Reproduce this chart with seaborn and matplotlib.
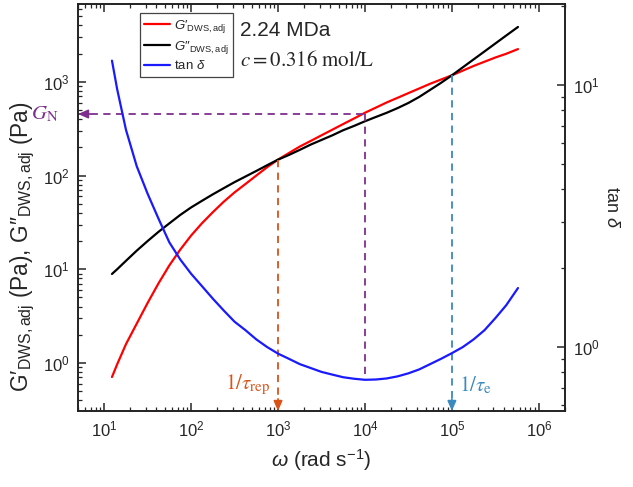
import numpy as np
import pandas as pd
import seaborn as sns
import matplotlib.pyplot as plt

# frequency grid (rad/s) and moduli
omega = [12.3, 14.1, 17.8, 23.7, 31.6, 42.2, 56.2, 75.0, 100, 133, 178, 237, 316, 422,
         562, 750, 1000, 1334, 1778, 2371, 3162, 4217, 5623, 7499, 1e4, 13335, 17783,
         23714, 31623, 42170, 56234, 74989, 1e5, 133352, 177828, 237137, 316228,
         421697, 575440]
g_storage = [0.708, 0.966, 1.585, 2.63, 4.37, 7.08, 11.0, 16.2, 22.9, 30.9, 40.7, 52.5,
             66.1, 81.3, 100, 123, 148, 174, 204, 234, 269, 309, 355, 407, 468, 531,
             603, 676, 759, 851, 955, 1059, 1175, 1318, 1479, 1641, 1820, 1995, 2239]
g_loss = [8.91, 10.0, 12.3, 15.8, 20.0, 25.1, 30.9, 38.0, 45.7, 53.7, 63.1, 73.3, 85.1,
          97.7, 112, 129, 148, 166, 188, 214, 240, 269, 305, 339, 380, 422, 468, 525,
          596, 692, 822, 977, 1175, 1429, 1738, 2113, 2570, 3126, 3855]
tan_delta = [12.4, 9.66, 6.76, 4.90, 3.85, 3.09, 2.51, 2.16, 1.905, 1.71, 1.53, 1.38,
             1.25, 1.16, 1.07, 1.00, 0.944, 0.902, 0.861, 0.832, 0.804, 0.785, 0.767,
             0.757, 0.750, 0.752, 0.759, 0.773, 0.794, 0.822, 0.861, 0.902, 0.948, 1.00,
             1.07, 1.16, 1.29, 1.445, 1.68]

# characteristic points
g_n = 454
omega_gn = 1e4
tan_min = 0.75
omega_rep, g_rep = 1e3, 148
omega_e, g_e = 1e5, 1175

df = pd.DataFrame({"omega": omega, "gp": g_storage, "gpp": g_loss, "tan": tan_delta})

sns.set_theme(style="ticks")
plt.rcParams["font.family"] = ["Liberation Sans", "DejaVu Sans"]
plt.rcParams["mathtext.fontset"] = "custom"
plt.rcParams["mathtext.rm"] = "Liberation Sans"
plt.rcParams["mathtext.it"] = "Liberation Sans:italic"
plt.rcParams["mathtext.bf"] = "Liberation Sans:bold"

fig = plt.figure(figsize=(6.33, 4.87), dpi=100)
ax = fig.add_axes([0.1232, 0.156, 0.7694, 0.8358])
ax2 = ax.twinx()

ax.set_xscale("log")
ax.set_yscale("log")
ax2.set_yscale("log")
ax.set_xlim(5, 2e6)
ax.set_ylim(0.307, 6780)
ax2.set_ylim(0.57, 20.4)

sns.lineplot(data=df, x="omega", y="gp", ax=ax, color="#ff0000", lw=1.6,
             label="$G$\u2032$_\\mathrm{DWS,adj}$")
sns.lineplot(data=df, x="omega", y="gpp", ax=ax, color="black", lw=1.6,
             label="$G$\u2033$_\\mathrm{DWS,adj}$")
sns.lineplot(data=df, x="omega", y="tan", ax=ax2, color="#1a1aff", lw=1.6,
             label=r"tan $\delta$")

purple = "#7e2f8e"
orange = "#d95319"
steel = "#3a89bf"
ylo = ax.get_ylim()[0]
xlo = ax.get_xlim()[0]

# G_N guide lines
ax.plot([xlo, omega_gn], [g_n, g_n], color=purple, lw=1.3, dashes=(4, 3))
fig.canvas.draw()
y_min_ax = ax.transData.inverted().transform(ax2.transData.transform((omega_gn, tan_min)))[1]
ax.plot([omega_gn, omega_gn], [g_n, y_min_ax], color=purple, lw=1.3, dashes=(4, 3))
ax.annotate("", xy=(xlo, g_n), xytext=(xlo * 1.4, g_n),
            arrowprops=dict(arrowstyle="-|>,head_length=0.5,head_width=0.22",
                            color=purple, lw=1.2, shrinkA=0, shrinkB=0))

# relaxation time guide lines
for w, g, c in [(omega_rep, g_rep, orange), (omega_e, g_e, steel)]:
    ax.plot([w, w], [g, ylo], color=c, lw=1.3, dashes=(4, 3))
    ax.annotate("", xy=(w, ylo), xytext=(w, ylo * 1.35),
                arrowprops=dict(arrowstyle="-|>,head_length=0.5,head_width=0.22",
                                color=c, lw=1.2, shrinkA=0, shrinkB=0))

ax.text(-0.04, g_n, r"$G_\mathrm{N}$", transform=ax.get_yaxis_transform(),
        ha="right", va="center", fontsize=15, color=purple, math_fontfamily="stix")
ax.text(omega_rep * 0.82, 0.064, r"$1/\tau_\mathrm{rep}$", transform=ax.get_xaxis_transform(),
        ha="right", va="center", fontsize=15, color=orange, math_fontfamily="stix")
ax.text(omega_e * 1.22, 0.064, r"$1/\tau_\mathrm{e}$", transform=ax.get_xaxis_transform(),
        ha="left", va="center", fontsize=15, color=steel, math_fontfamily="stix")

ax.text(0.333, 0.936, "2.24 MDa", transform=ax.transAxes, ha="left", va="center", fontsize=15)
ax.text(0.333, 0.862, r"$c = 0.316\ \mathrm{mol/L}$", transform=ax.transAxes,
        ha="left", va="center", fontsize=15, math_fontfamily="stix")

# legend combining both axes
h1, l1 = ax.get_legend_handles_labels()
h2, l2 = ax2.get_legend_handles_labels()
ax2.get_legend().remove()
ax.get_legend().remove()
leg = ax.legend(h1[:2] + h2, l1[:2] + l2, loc="upper left", bbox_to_anchor=(0.127, 0.978),
                borderaxespad=0, fontsize=9.5, handlelength=1.9, handletextpad=0.35,
                labelspacing=0.3, borderpad=0.35, fancybox=False, framealpha=1)
leg.get_frame().set_edgecolor("#444444")
leg.get_frame().set_linewidth(0.9)

ax.set_xlabel(r"$\omega$ (rad s$^{-1}$)", fontsize=15, labelpad=6)
ax.set_ylabel("G\u2032$_\\mathrm{DWS,adj}$ (Pa), G\u2033$_\\mathrm{DWS,adj}$ (Pa)",
              fontsize=16.3)
ax.yaxis.set_label_coords(-0.084, 0.403)
ax2.set_ylabel(r"tan $\delta$", fontsize=13, rotation=270, labelpad=14)

for a in (ax, ax2):
    for s in a.spines.values():
        s.set_linewidth(1.2)
        s.set_color("#222222")
ax.tick_params(which="both", direction="in", top=True, right=False, labelsize=12, pad=6)
ax.tick_params(which="major", length=6, width=1.1)
ax.tick_params(which="minor", length=3, width=0.9)
ax2.tick_params(which="both", direction="in", labelsize=12, pad=6)
ax2.tick_params(which="major", length=6, width=1.1)
ax2.tick_params(which="minor", length=3, width=0.9)

fig.savefig("out.png", dpi=100)
